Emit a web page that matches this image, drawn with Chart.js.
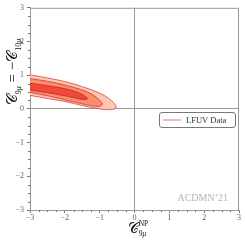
<!DOCTYPE html>
<html><head><meta charset="utf-8">
<script src="https://cdn.jsdelivr.net/npm/chart.js@4"></script>
<style>html,body{margin:0;padding:0;background:#fff}#w{width:245px;height:241px}</style>
</head><body><div id="w"><canvas id="c"></canvas></div>
<script>
// Contour boundaries (x = C9mu^NP, y = C9mu = -C10mu)
const innerX  = [-3.3,-3.0,-2.5,-2.0,-1.6,-1.42,-1.35,-1.45,-1.6,-2.0,-2.5,-3.0,-3.3,-3.3];
const innerY  = [0.80,0.76,0.69,0.60,0.48,0.38,0.31,0.28,0.30,0.39,0.48,0.56,0.60,0.80];
const middleX = [-3.3,-3.0,-2.5,-2.0,-1.5,-1.2,-1.0,-0.92,-1.0,-1.2,-1.5,-2.0,-2.5,-3.0,-3.3,-3.3];
const middleY = [0.95,0.90,0.82,0.71,0.56,0.42,0.26,0.14,0.08,0.09,0.15,0.27,0.39,0.49,0.54,0.95];
const outerX  = [-3.3,-3.0,-2.5,-2.0,-1.5,-1.0,-0.75,-0.6,-0.52,-0.62,-0.8,-1.0,-1.5,-2.0,-2.5,-3.0,-3.3,-3.3];
const outerY  = [1.07,1.01,0.92,0.81,0.66,0.47,0.32,0.18,0.05,-0.01,-0.02,0.0,0.10,0.22,0.31,0.40,0.45,1.07];
const tickValues = [-3,-2,-1,0,1,2,3];
const legendLabel = 'LFUV Data';
const watermark = 'ACDMN\u201921';

const pts = (xs, ys) => xs.map((x, i) => ({x, y: ys[i]}));
const fmt = v => (v < 0 ? '\u2212' + Math.abs(v) : String(v));
const SERIF = '"Liberation Serif","DejaVu Serif",serif';

function runs(ctx, parts, x, y, align) {
  // parts: [text, size, dy, style]
  let w = 0;
  parts.forEach(p => { ctx.font = (p[3]||'') + ' ' + p[1] + 'px ' + SERIF; w += ctx.measureText(p[0]).width; });
  let cx = align === 'center' ? x - w / 2 : x;
  parts.forEach(p => {
    ctx.font = (p[3]||'') + ' ' + p[1] + 'px ' + SERIF;
    ctx.fillText(p[0], cx, y + p[2]);
    cx += ctx.measureText(p[0]).width;
  });
}

const deco = {
  id: 'deco',
  afterDraw(chart) {
    const {ctx, chartArea: a, scales: {x, y}} = chart;
    ctx.save();
    // minor ticks
    ctx.strokeStyle = '#777'; ctx.lineWidth = 1;
    ctx.beginPath();
    for (let k = -12; k <= 12; k++) {
      if (k % 4 === 0) continue;
      const v = k / 4;
      const px = Math.round(x.getPixelForValue(v)) + 0.5;
      ctx.moveTo(px, a.bottom); ctx.lineTo(px, a.bottom + 2);
      const py = Math.round(y.getPixelForValue(v)) + 0.5;
      ctx.moveTo(a.left, py); ctx.lineTo(a.left - 2, py);
    }
    ctx.stroke();
    // frame top/right
    ctx.strokeStyle = '#999';
    ctx.beginPath();
    ctx.moveTo(a.left, a.top + 0.5); ctx.lineTo(a.right - 0.5, a.top + 0.5); ctx.lineTo(a.right - 0.5, a.bottom);
    ctx.stroke();
    // watermark
    ctx.fillStyle = '#b4b4b4';
    ctx.font = '10px ' + SERIF; ctx.textAlign = 'right'; ctx.textBaseline = 'middle';
    ctx.fillText(watermark, 228, 198);
    // legend
    ctx.textAlign = 'left';
    ctx.fillStyle = 'rgba(255,255,255,0.9)';
    ctx.strokeStyle = '#777';
    ctx.beginPath(); ctx.roundRect(159.5, 112.5, 76, 15, 2.5); ctx.fill(); ctx.stroke();
    ctx.strokeStyle = '#f0a0a4'; ctx.lineWidth = 1.5;
    ctx.beginPath(); ctx.moveTo(163, 120); ctx.lineTo(181, 120); ctx.stroke();
    ctx.fillStyle = '#333'; ctx.font = '8.5px ' + SERIF;
    ctx.fillText(legendLabel, 186, 120.5);
    // axis titles
    ctx.fillStyle = '#111'; ctx.textBaseline = 'alphabetic';
    ctx.font = '15px ' + SERIF; const cw = ctx.measureText('\u{1D49E}').width;
    ctx.font = '7.5px ' + SERIF; const npw = ctx.measureText('NP').width;
    const startX = 138 - (cw + npw) / 2;
    runs(ctx, [['\u{1D49E}', 15, 0, ''], ['NP', 7.5, -7, '']], startX, 233, 'left');
    runs(ctx, [['9', 7.5, 0], ['\u03BC', 7.5, 0, 'italic']], startX + cw, 236, 'left');
    ctx.save();
    ctx.translate(17, 72); ctx.rotate(-Math.PI / 2);
    runs(ctx, [['\u{1D49E}', 15, 0, ''], ['9', 8, 3.5], ['\u03BC', 8, 3.5, 'italic'], [' = \u2212', 15, 0], ['\u{1D49E}', 15, 0, ''], ['10', 8, 3.5], ['\u03BC', 8, 3.5, 'italic']], 0, 0, 'center');
    ctx.restore();
    ctx.restore();
  }
};

const axisCommon = (isY) => ({
  type: 'linear', min: -3, max: 3,
  afterFit: s => { if (isY) s.width = 30; else s.height = 31; },
  afterBuildTicks: s => { s.ticks = tickValues.map(v => ({value: v})); },
  ticks: { autoSkip: false, maxRotation: 0, color: '#666', padding: isY ? 3 : 0,
           font: {family: SERIF, size: 8}, callback: v => fmt(v) },
  grid: { drawOnChartArea: true, drawTicks: true, tickLength: 3, tickColor: '#777',
          color: c => (c.tick && c.tick.value === 0 ? '#999' : 'rgba(0,0,0,0)'), lineWidth: 1 },
  border: { display: true, color: '#999', width: 1 },
  title: { display: false }
});

new Chart(document.getElementById('c'), {
  type: 'scatter',
  data: { datasets: [
    { label: 'inner', data: pts(innerX, innerY), showLine: true, fill: 'shape', tension: 0.35,
      backgroundColor: '#ee4a37', borderColor: '#c9202a', borderWidth: 0.8, pointRadius: 0 },
    { label: 'middle', data: pts(middleX, middleY), showLine: true, fill: 'shape', tension: 0.35,
      backgroundColor: '#f98e6f', borderColor: '#d4343a', borderWidth: 0.8, pointRadius: 0 },
    { label: 'outer', data: pts(outerX, outerY), showLine: true, fill: 'shape', tension: 0.35,
      backgroundColor: '#fdc8b2', borderColor: '#dc4044', borderWidth: 0.8, pointRadius: 0 }
  ]},
  options: {
    responsive: true, maintainAspectRatio: false, animation: false,
    layout: { padding: { top: 5, right: 6, left: 0, bottom: 0 } },
    plugins: { legend: { display: false }, tooltip: { enabled: false } },
    scales: { x: axisCommon(false), y: axisCommon(true) }
  },
  plugins: [deco]
});
</script></body></html>
